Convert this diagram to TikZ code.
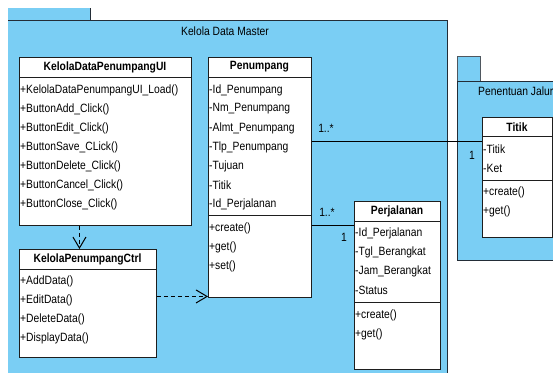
\documentclass[tikz,border=0pt]{standalone}
\usepackage{fontspec}
\setmainfont[FakeStretch=0.86]{Liberation Sans}
\usetikzlibrary{arrows.meta,calc}
\definecolor{pkgblue}{RGB}{122,206,244}
\definecolor{pkgline}{RGB}{35,45,55}
\definecolor{boxline}{RGB}{30,30,30}
\begin{document}
\begin{tikzpicture}[x=1pt,y=-1pt,
  font=\fontsize{12}{13}\selectfont,
  classbox/.style={draw=boxline, line width=0.9pt, fill=white, anchor=north west, inner sep=0pt},
  sepline/.style={draw=boxline, line width=0.9pt},
  item/.style={anchor=west, inner sep=0pt},
  cname/.style={inner sep=0pt, font=\fontsize{12}{13}\selectfont\bfseries},
  pkgedge/.style={draw=pkgline, line width=0.9pt},
  dep/.style={draw=black, line width=0.9pt, dash pattern=on 4pt off 3pt, -{Straight Barb[length=11pt,width=13pt,line width=1pt]}},
  assoc/.style={draw=black, line width=0.9pt},
  mult/.style={inner sep=0pt}
]
\useasboundingbox (0,0) rectangle (553,372);
\clip (0,0) rectangle (553,372);

% main package
\fill[pkgblue] (8,8) rectangle (90,20);
\fill[pkgblue] (8,20) rectangle (447,380);
\draw[pkgedge] (90,8) -- (90,20);
\draw[pkgedge] (8,20) -- (447,20) -- (447,380);
\node[inner sep=0pt] (pkgmain) at (225,31) {Kelola Data Master};

% second package
\fill[pkgblue] (457,56) rectangle (480,81);
\fill[pkgblue] (457,81) rectangle (560,260);
\draw[pkgedge, draw=pkgline!80] (457,81) -- (457,56) -- (480,56) -- (480,81);
\draw[pkgedge] (560,81) -- (457,81) -- (457,260) -- (560,260);
\node[item] (pkgjalur) at (478,91) {Penentuan Jalur};

% KelolaDataPenumpangUI
\node[classbox, minimum width=172pt, minimum height=168pt] (ui) at (19,57) {};
\draw[sepline] ([yshift=-20pt]ui.north west) -- ([yshift=-20pt]ui.north east);
\node[cname] (uit) at (105,67) {KelolaDataPenumpangUI};
\node[item] (ui1) at (20,90) {+KelolaDataPenumpangUI\_Load()};
\node[item] (ui2) at (20,109) {+ButtonAdd\_Click()};
\node[item] (ui3) at (20,128) {+ButtonEdit\_Click()};
\node[item] (ui4) at (20,147) {+ButtonSave\_CLick()};
\node[item] (ui5) at (20,166) {+ButtonDelete\_Click()};
\node[item] (ui6) at (20,185) {+ButtonCancel\_Click()};
\node[item] (ui7) at (20,204) {+ButtonClose\_Click()};

% Penumpang
\node[classbox, minimum width=103pt, minimum height=240pt] (pen) at (208,57) {};
\draw[sepline] ([yshift=-20pt]pen.north west) -- ([yshift=-20pt]pen.north east);
\draw[sepline] ([yshift=-158pt]pen.north west) -- ([yshift=-158pt]pen.north east);
\node[cname] (pent) at (259.5,67) {Penumpang};
\node[item] (pen1) at (209,90) {-Id\_Penumpang};
\node[item] (pen2) at (209,109) {-Nm\_Penumpang};
\node[item] (pen3) at (209,128) {-Almt\_Penumpang};
\node[item] (pen4) at (209,147) {-Tlp\_Penumpang};
\node[item] (pen5) at (209,166) {-Tujuan};
\node[item] (pen6) at (209,185) {-Titik};
\node[item] (pen7) at (209,204) {-Id\_Perjalanan};
\node[item] (pen8) at (209,228) {+create()};
\node[item] (pen9) at (209,247) {+get()};
\node[item] (pen10) at (209,266) {+set()};

% KelolaPenumpangCtrl
\node[classbox, minimum width=137pt, minimum height=108pt] (ctrl) at (19,249) {};
\draw[sepline] ([yshift=-20pt]ctrl.north west) -- ([yshift=-20pt]ctrl.north east);
\node[cname] (ctrlt) at (87.5,259) {KelolaPenumpangCtrl};
\node[item] (c1) at (20,281) {+AddData()};
\node[item] (c2) at (20,300) {+EditData()};
\node[item] (c3) at (20,319) {+DeleteData()};
\node[item] (c4) at (20,338) {+DisplayData()};

% Perjalanan
\node[classbox, minimum width=86pt, minimum height=168pt] (perj) at (354,201) {};
\draw[sepline] ([yshift=-20pt]perj.north west) -- ([yshift=-20pt]perj.north east);
\draw[sepline] ([yshift=-101pt]perj.north west) -- ([yshift=-101pt]perj.north east);
\node[cname] (perjt) at (397,211) {Perjalanan};
\node[item] (pj1) at (355,233) {-Id\_Perjalanan};
\node[item] (pj2) at (355,252) {-Tgl\_Berangkat};
\node[item] (pj3) at (355,271) {-Jam\_Berangkat};
\node[item] (pj4) at (355,290) {-Status};
\node[item] (pj5) at (355,315) {+create()};
\node[item] (pj6) at (355,334) {+get()};

% Titik
\node[classbox, minimum width=70pt, minimum height=120pt] (titik) at (482,117) {};
\draw[sepline] ([yshift=-19pt]titik.north west) -- ([yshift=-19pt]titik.north east);
\draw[sepline] ([yshift=-63pt]titik.north west) -- ([yshift=-63pt]titik.north east);
\node[cname] (titikt) at (517,127) {Titik};
\node[item] (t1) at (483,149) {-Titik};
\node[item] (t2) at (483,168) {-Ket};
\node[item] (t3) at (483,192) {+create()};
\node[item] (t4) at (483,211) {+get()};

% connectors
\draw[dep] ([xshift=-26pt]ui.south) -- ([xshift=-26pt]ui.south |- ctrl.north);
\draw[dep] ([yshift=7pt]ctrl.east) -- ([yshift=7pt]ctrl.east -| pen.west);
\draw[assoc] ([yshift=36pt]pen.east) -- ([yshift=36pt]titik.west);
\draw[assoc] ([yshift=-48pt]pen.east) -- ([yshift=-48pt]pen.east -| perj.west);

% multiplicities
\node[mult] (m1) at (326,128) {1..*};
\node[mult] (m2) at (472,155) {1};
\node[mult] (m3) at (327,212) {1..*};
\node[mult] (m4) at (344,237) {1};
\end{tikzpicture}
\end{document}
